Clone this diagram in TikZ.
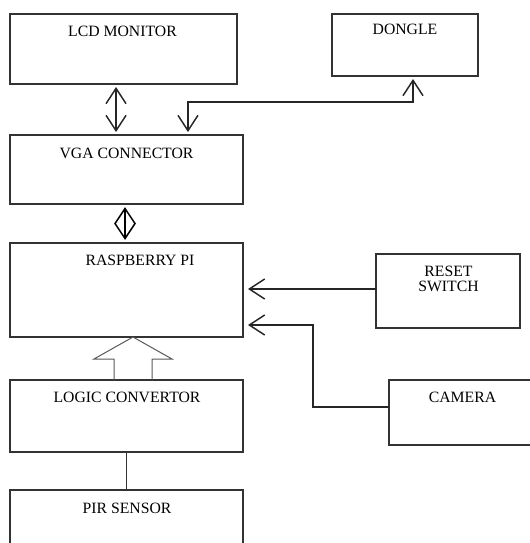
\documentclass[tikz,border=0pt]{standalone}
\usepackage{fontspec}
\setmainfont{Liberation Serif}
\usetikzlibrary{arrows.meta, calc}
\tikzset{
	blockbox/.style={draw=black!80, line width=0.9pt, anchor=north west, inner sep=0pt, outer sep=0pt},
	blocklbl/.style={anchor=base, inner sep=0pt, align=center, font=\fontsize{11.8}{11.4}\selectfont},
	linkarr/.style={->, line width=1.1pt, draw=black!85},
	hollowarr/.style={draw=black!65, line width=0.75pt, line join=miter},
}

\begin{document}
\begin{tikzpicture}[
		x=0.75pt, y=-0.75pt,
		>={Straight Barb[length=11.5pt, width=15pt]}
	]
	\useasboundingbox (0,0) rectangle (530,543);
	\clip (0,0) rectangle (530,543);

	% Blocks
	\node[blockbox, minimum width=170.25pt, minimum height=52.5pt] (lcd) at (10,14) {};
	\node[blockbox, minimum width=109.5pt, minimum height=46.5pt] (dongle) at (332,14) {};
	\node[blockbox, minimum width=174.75pt, minimum height=51.75pt] (vga) at (10,135) {};
	\node[blockbox, minimum width=174.75pt, minimum height=70.5pt] (rpi) at (10,243) {};
	\node[blockbox, minimum width=108pt, minimum height=55.5pt] (reset) at (376,254) {};
	\node[blockbox, minimum width=109.5pt, minimum height=48.75pt] (camera) at (389,380) {};
	\node[blockbox, minimum width=174.75pt, minimum height=54pt] (logic) at (10,380) {};
	\node[blockbox, minimum width=174.75pt, minimum height=60pt] (pir) at (10,490) {};

	% Labels
	\node[blocklbl] (lcdtxt) at (122.5,36) {LCD MONITOR};
	\node[blocklbl] (dongletxt) at (405,34) {DONGLE};
	\node[blocklbl] (vgatxt) at (126.5,158) {VGA CONNECTOR};
	\node[blocklbl] (rpitxt) at (140,265) {RASPBERRY PI};
	\node[blocklbl, anchor=center] (resettxt) at (448.5,279) {RESET\\SWITCH};
	\node[blocklbl] (cameratxt) at (462.5,402) {CAMERA};
	\node[blocklbl] (logictxt) at (127,402) {LOGIC CONVERTOR};
	\node[blocklbl] (pirtxt) at (127,513) {PIR SENSOR};

	% Bends
	\coordinate (dbus) at (300,102);
	\coordinate (cbend) at (313,325);
	\coordinate (blk) at (133,380);
	\coordinate (dmid) at ($([xshift=-1.1pt]vga.south)!0.5!([xshift=-1.1pt]vga.south |- rpi.north)$);

	% Links
	\draw[linkarr, <->, shorten <=2.25pt, shorten >=2.25pt] ([xshift=-5.6pt]lcd.south) -- ([xshift=-5.6pt]lcd.south |- vga.north);
	\draw[linkarr, <->, shorten <=2.25pt, shorten >=2.25pt] ([xshift=46.1pt]vga.north) |- (dbus) -| ([xshift=6pt]dongle.south);
	\draw[line width=1.1pt, shorten <=3pt, shorten >=3.5pt] ([xshift=-1.1pt]vga.south) -- ([xshift=-1.1pt]vga.south |- rpi.north);
	\draw[line width=1.1pt, line join=miter] (dmid) ++(0,-15) -- ++(10,15) -- ++(-10,15) -- ++(-10,-15) -- cycle;
	\draw[linkarr, shorten >=3.75pt] ([yshift=1.5pt]reset.west) -- ([yshift=1.5pt]reset.west -| rpi.east);
	\draw[linkarr, shorten >=3.75pt] ([yshift=4.1pt]camera.west) -| (cbend) -- (cbend -| rpi.east);
	\draw[hollowarr] (blk) ++(-19,0) -- ++(0,-21) -- ++(-20,0) -- ++(39,-22) -- ++(39,22) -- ++(-20,0) -- ++(0,21);
	\draw[line width=0.9pt, draw=black!80] (logic.south) -- (pir.north);
\end{tikzpicture}
\end{document}
